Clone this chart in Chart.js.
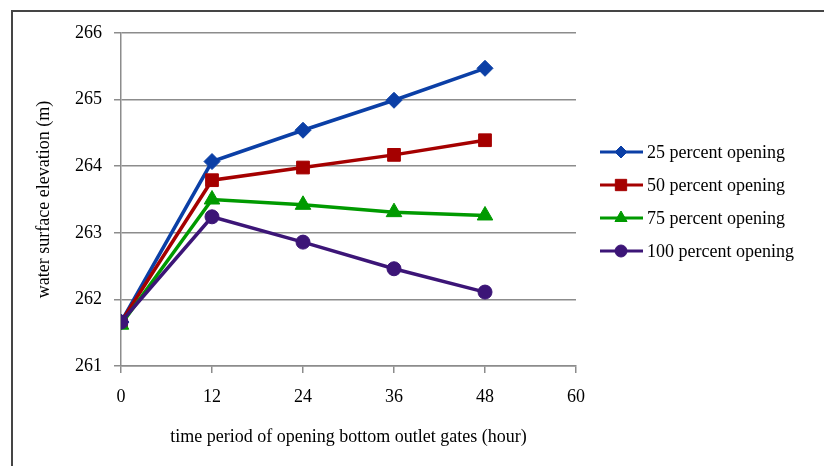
<!DOCTYPE html>
<html>
<head>
<meta charset="utf-8">
<script src="https://cdn.jsdelivr.net/npm/chart.js@4"></script>
<style>
  html, body { margin: 0; padding: 0; background: #fff; }
  #wrap { position: relative; width: 824px; height: 466px; }
</style>
</head>
<body>
<div id="wrap"><canvas id="c" width="824" height="466"></canvas></div>
<script>
// Hours since the bottom outlet gates were opened
const hours = [0, 12, 24, 36, 48];

// Water surface elevation (m) for each gate opening
const open25  = [261.66, 264.07, 264.54, 264.99, 265.47];
const open50  = [261.66, 263.79, 263.98, 264.17, 264.39];
const open75  = [261.62, 263.50, 263.42, 263.31, 263.26];
const open100 = [261.66, 263.24, 262.86, 262.46, 262.11];

const seriesLabels = ['25 percent opening', '50 percent opening', '75 percent opening', '100 percent opening'];
const xTicks = [0, 12, 24, 36, 48, 60];
const yTicks = [261, 262, 263, 264, 265, 266];

const FONT = 'Liberation Serif';
const FSIZE = 18;

const toPoints = vals => hours.map((h, i) => ({ x: h, y: vals[i] }));

// Outer frame around the figure
const framePlugin = {
  id: 'frame',
  beforeDraw(chart) {
    const ctx = chart.ctx;
    ctx.save();
    ctx.fillStyle = '#fff';
    ctx.fillRect(0, 0, chart.width, chart.height);
    ctx.strokeStyle = '#454545';
    ctx.lineWidth = 2;
    ctx.beginPath();
    ctx.moveTo(12, chart.height);
    ctx.lineTo(12, 11);
    ctx.lineTo(chart.width, 11);
    ctx.stroke();
    ctx.restore();
  }
};

// Legend with a line segment and marker per series, right of the plot
const lineLegend = {
  id: 'lineLegend',
  afterDraw(chart) {
    const ctx = chart.ctx;
    const area = chart.chartArea;
    const sets = chart.data.datasets;
    const gap = 33;
    const midY = (area.top + area.bottom) / 2 + 2;
    const y0 = midY - gap * (sets.length - 1) / 2;
    const x0 = area.right + 24;
    ctx.save();
    sets.forEach((ds, i) => {
      const y = y0 + i * gap;
      ctx.strokeStyle = ds.borderColor;
      ctx.lineWidth = 3;
      ctx.beginPath();
      ctx.moveTo(x0, y);
      ctx.lineTo(x0 + 43, y);
      ctx.stroke();
      ctx.fillStyle = ds.backgroundColor;
      ctx.strokeStyle = ds.borderColor;
      ctx.lineWidth = 1;
      Chart.helpers.drawPoint(ctx, {
        pointStyle: ds.pointStyle,
        radius: ds.legendRadius,
        borderWidth: 1
      }, x0 + 21, y);
      ctx.fillStyle = '#000';
      ctx.font = FSIZE + 'px "' + FONT + '"';
      ctx.textAlign = 'left';
      ctx.textBaseline = 'middle';
      ctx.fillText(ds.label, x0 + 47, y + 1);
    });
    ctx.restore();
  }
};

const mkSet = (label, vals, color, style, radius, legendRadius, order) => ({
  label,
  data: toPoints(vals),
  borderColor: color,
  backgroundColor: color,
  borderWidth: 3.5,
  pointStyle: style,
  pointRadius: radius,
  pointBorderWidth: 1,
  pointBackgroundColor: color,
  pointBorderColor: color,
  legendRadius,
  order,
  tension: 0
});

new Chart(document.getElementById('c'), {
  type: 'line',
  data: {
    datasets: [
      mkSet(seriesLabels[0], open25,  '#0b3fa6', 'rectRot',  8, 6, 3),
      mkSet(seriesLabels[1], open50,  '#a50000', 'rect',     9, 8, 2),
      mkSet(seriesLabels[2], open75,  '#009a00', 'triangle', 9, 7, 1),
      mkSet(seriesLabels[3], open100, '#3c1577', 'circle',   7, 6, 0)
    ]
  },
  plugins: [framePlugin, lineLegend],
  options: {
    responsive: false,
    animation: false,
    layout: { padding: { top: 33, right: 248, left: 0, bottom: 0 } },
    plugins: {
      legend: { display: false },
      tooltip: { enabled: false }
    },
    scales: {
      x: {
        type: 'linear',
        min: 0,
        max: 60,
        afterBuildTicks: s => { s.ticks = xTicks.map(v => ({ value: v })); },
        afterFit: s => { s.height = 100; },
        grid: {
          drawOnChartArea: false,
          drawTicks: true,
          tickLength: 7,
          color: '#8c8c8c',
          lineWidth: 1.5
        },
        border: { color: '#8c8c8c', width: 1.5 },
        ticks: {
          color: '#000',
          padding: 13,
          font: { family: FONT, size: FSIZE }
        },
        title: {
          display: true,
          text: 'time period of opening bottom outlet gates (hour)',
          color: '#000',
          font: { family: FONT, size: FSIZE },
          padding: { top: 0, bottom: 18 }
        }
      },
      y: {
        type: 'linear',
        min: 261,
        max: 266,
        afterBuildTicks: s => { s.ticks = yTicks.map(v => ({ value: v })); },
        afterFit: s => { s.width = 121; },
        grid: {
          drawOnChartArea: true,
          drawTicks: true,
          tickLength: 7,
          color: '#8c8c8c',
          lineWidth: 1.5
        },
        border: { color: '#8c8c8c', width: 1.5 },
        ticks: {
          color: '#000',
          padding: 12,
          font: { family: FONT, size: FSIZE }
        },
        title: {
          display: true,
          text: 'water surface elevation (m)',
          color: '#000',
          font: { family: FONT, size: FSIZE },
          padding: { top: 33, bottom: 0 }
        }
      }
    }
  }
});
</script>
</body>
</html>
